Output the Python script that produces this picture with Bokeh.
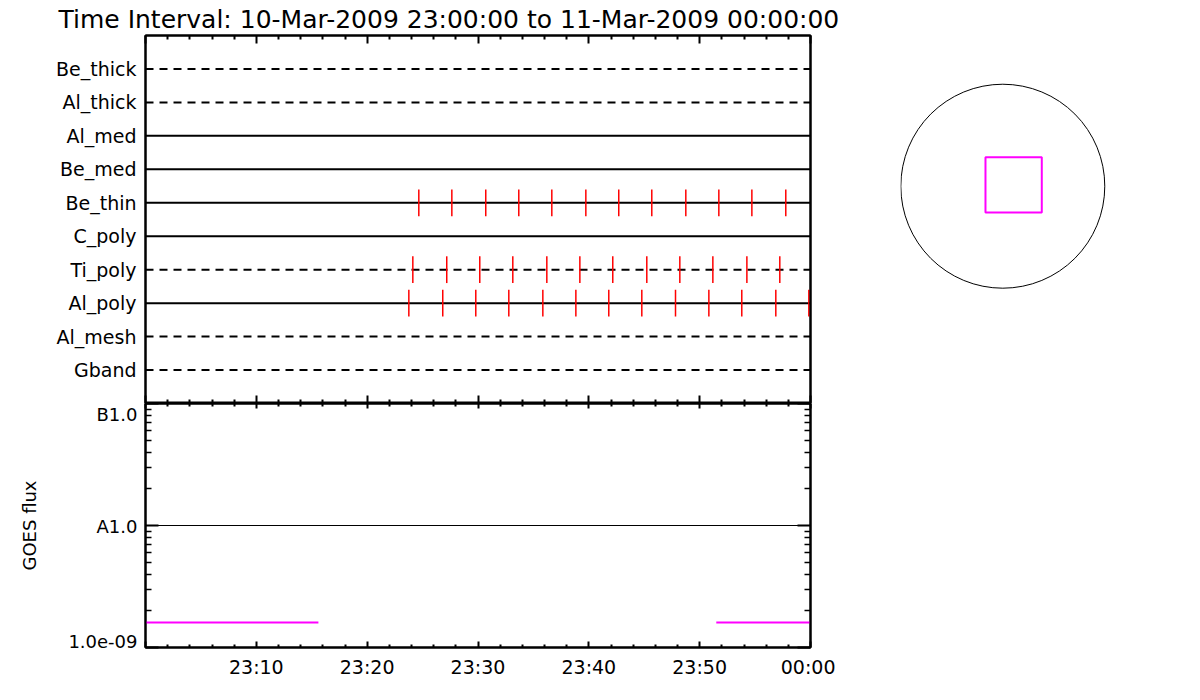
from bokeh.plotting import figure
from bokeh.models import (Range1d, LinearAxis, LogAxis, FixedTicker,
                          CustomJSTickFormatter)
from bokeh.layouts import row, column
from bokeh.embed import file_html
from bokeh.resources import INLINE

FONT = "DejaVu Sans"

# ---------------- data ----------------
title_text = "Time Interval: 10-Mar-2009 23:00:00 to 11-Mar-2009 00:00:00"

# filter rows, bottom to top
filters = ["Gband", "Al_mesh", "Al_poly", "Ti_poly", "C_poly",
           "Be_thin", "Be_med", "Al_med", "Al_thick", "Be_thick"]
filter_dashed = [True, True, False, True, False,
                 False, False, False, True, True]

# observation times, minutes after 23:00
al_poly_times = [23.76, 26.82, 29.80, 32.78, 35.85, 38.83, 41.80,
                 44.78, 47.82, 50.83, 53.80, 56.87, 59.85]
ti_poly_times = [24.12, 27.18, 30.16, 33.14, 36.21, 39.19, 42.16,
                 45.23, 48.21, 51.19, 54.26, 57.23]
be_thin_times = [24.66, 27.64, 30.70, 33.68, 36.66, 39.73, 42.70,
                 45.68, 48.75, 51.73, 54.71, 57.77]

t_start, t_end = 0.0, 60.0
x_major_ticks = [0, 10, 20, 30, 40, 50, 60]
x_minor_ticks = [2, 4, 6, 8, 12, 14, 16, 18, 22, 24, 26, 28, 32, 34, 36, 38,
                 42, 44, 46, 48, 52, 54, 56, 58]
x_tick_labels = ["", "23:10", "23:20", "23:30", "23:40", "23:50", "00:00"]

# GOES flux
goes_time = [0.0, 15.6, float("nan"), 51.5, 60.0]
goes_flux = [1.6e-9, 1.6e-9, float("nan"), 1.6e-9, 1.6e-9]
goes_levels = [1e-9, 1e-8, 1e-7]
goes_labels = ["1.0e-09", "A1.0", "B1.0"]
goes_minor = [k * 1e-9 for k in range(2, 10)] + [k * 1e-8 for k in range(2, 10)]
goes_threshold = 1e-8

# solar disk and field of view (arcsec)
sun_radius = 960.0
fov_x, fov_y = 102.0, 13.0
fov_w, fov_h = 530.0, 520.0

# ---------------- layout constants ----------------
FRAME_W = 665
TOP_H = 368
BOT_H = 244
LEFT = 145
# labels of the GOES axis are kept inside the panel (pixels, + = upwards)
label_nudge_px = [6, -1, -4]

# ---------------- top panel ----------------
top = figure(frame_width=FRAME_W, frame_height=TOP_H,
             x_range=Range1d(t_start, t_end), y_range=Range1d(0, 11),
             x_axis_location=None, y_axis_location=None,
             min_border_left=LEFT, min_border_right=90,
             min_border_top=27, min_border_bottom=0,
             output_backend="svg", toolbar_location=None,
             outline_line_color="black", outline_line_width=2,
             background_fill_color="white", border_fill_color="white")
top.grid.visible = False

top.title.text = title_text
top.title.text_font = FONT
top.title.text_font_size = "25px"
top.title.text_font_style = "normal"
top.title.text_line_height = 1.0
top.title.text_color = "black"
top.title.align = "left"
top.title.offset = -87
top.title.standoff = 4


def tick_axis(cls, tick_in, minor_in, ticker):
    return cls(ticker=ticker, major_tick_in=tick_in, major_tick_out=0,
               minor_tick_in=minor_in, minor_tick_out=0,
               major_label_text_font_size="1px", major_label_text_color=None,
               major_label_standoff=0,
               axis_line_width=2, major_tick_line_width=2,
               minor_tick_line_width=2)


top.add_layout(tick_axis(LinearAxis, 8, 4,
                         FixedTicker(ticks=x_major_ticks, minor_ticks=x_minor_ticks)), "above")
top.add_layout(tick_axis(LinearAxis, 8, 4,
                         FixedTicker(ticks=x_major_ticks, minor_ticks=x_minor_ticks)), "below")
top.add_layout(tick_axis(LinearAxis, 0, 0, FixedTicker(ticks=[])), "right")

ly = LinearAxis(ticker=FixedTicker(ticks=list(range(1, len(filters) + 1))),
                major_label_overrides={i + 1: n for i, n in enumerate(filters)},
                major_tick_in=0, major_tick_out=0, minor_tick_in=0, minor_tick_out=0,
                major_label_standoff=9, axis_line_width=2,
                major_label_text_font=FONT, major_label_text_font_size="19px",
                major_label_text_color="black")
top.add_layout(ly, "left")

for i, (name, dashed) in enumerate(zip(filters, filter_dashed)):
    yv = i + 1
    top.line(x=[t_start, t_end], y=[yv, yv], line_color="black", line_width=2,
             line_dash="8 6" if dashed else "solid")

for name, times in (("Al_poly", al_poly_times), ("Ti_poly", ti_poly_times),
                    ("Be_thin", be_thin_times)):
    yv = filters.index(name) + 1
    top.segment(x0=times, y0=[yv - 0.4] * len(times), x1=times,
                y1=[yv + 0.4] * len(times), line_color="red", line_width=1.5)

# ---------------- bottom panel ----------------
bot = figure(frame_width=FRAME_W, frame_height=BOT_H,
             x_range=Range1d(t_start, t_end),
             y_range=Range1d(goes_levels[0], goes_levels[-1]),
             y_axis_type="log",
             x_axis_location=None, y_axis_location=None,
             min_border_left=LEFT, min_border_right=25,
             min_border_top=0, min_border_bottom=35,
             output_backend="svg", toolbar_location=None,
             outline_line_color="black", outline_line_width=2,
             background_fill_color="white", border_fill_color="white")
bot.grid.visible = False

bot.add_layout(tick_axis(LinearAxis, 5, 3,
                         FixedTicker(ticks=x_major_ticks, minor_ticks=x_minor_ticks)), "above")

bx = LinearAxis(ticker=FixedTicker(ticks=x_major_ticks, minor_ticks=x_minor_ticks),
                major_label_overrides={t: l for t, l in zip(x_major_ticks, x_tick_labels)},
                major_tick_in=6, major_tick_out=0, minor_tick_in=3, minor_tick_out=0,
                major_label_standoff=8, axis_line_width=2,
                major_tick_line_width=2, minor_tick_line_width=2,
                major_label_text_font=FONT, major_label_text_font_size="19px",
                major_label_text_color="black")
bot.add_layout(bx, "below")

# inner left axis: the ticks
inner = tick_axis(LogAxis, 13, 6, FixedTicker(ticks=goes_levels, minor_ticks=goes_minor))
inner.minor_tick_line_width = 1.5
bot.add_layout(inner, "left")

# outer left axis: the labels, nudged inside the panel like the original
decades_per_px = 2.0 / BOT_H
label_pos = [lv * 10 ** (n * decades_per_px) for lv, n in zip(goes_levels, label_nudge_px)]
fmt = CustomJSTickFormatter(args=dict(levels=goes_levels, labels=goes_labels), code="""
    let best = 0, bd = Infinity;
    for (let i = 0; i < levels.length; i++) {
        const d = Math.abs(Math.log10(tick) - Math.log10(levels[i]));
        if (d < bd) { bd = d; best = i; }
    }
    return labels[best];
""")
outer = LogAxis(ticker=FixedTicker(ticks=label_pos, minor_ticks=[]),
                formatter=fmt,
                major_tick_in=0, major_tick_out=0, minor_tick_in=0, minor_tick_out=0,
                major_label_standoff=8, axis_line_color=None,
                major_label_text_font=FONT, major_label_text_font_size="18px",
                major_label_text_color="black",
                axis_label="GOES flux", axis_label_text_font=FONT,
                axis_label_text_font_size="18px", axis_label_text_font_style="normal",
                axis_label_text_color="black",
                axis_label_standoff=25)
bot.add_layout(outer, "left")

ryb = tick_axis(LogAxis, 13, 6, FixedTicker(ticks=goes_levels, minor_ticks=goes_minor))
ryb.minor_tick_line_width = 1.5
bot.add_layout(ryb, "right")

bot.line(x=[t_start, t_end], y=[goes_threshold, goes_threshold],
         line_color="black", line_width=1)
bot.line(x=goes_time, y=goes_flux, line_color="#ff00ff", line_width=2)

# ---------------- solar disk ----------------
# the row places this figure right of the left column
circ = figure(width=290, height=400,
              x_range=Range1d(-963, 1767), y_range=Range1d(-2017, 1748),
              x_axis_location=None, y_axis_location=None,
              min_border=0, outline_line_color=None,
              output_backend="svg", toolbar_location=None,
              background_fill_color="white", border_fill_color="white")
circ.grid.visible = False
circ.circle(x=[0.0], y=[0.0], radius=sun_radius, fill_color=None,
            line_color="black", line_width=1)
circ.rect(x=[fov_x], y=[fov_y], width=fov_w, height=fov_h, fill_color=None,
          line_color="#ff00ff", line_width=2)

layout = row(column(top, bot), circ)
open("out.html", "w").write(file_html(layout, INLINE))
